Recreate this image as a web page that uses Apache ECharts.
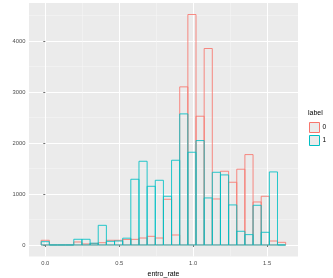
<!DOCTYPE html>
<html>
<head>
<meta charset="utf-8">
<script src="https://cdn.jsdelivr.net/npm/echarts@6/dist/echarts.min.js"></script>
<style>html,body{margin:0;padding:0;background:#fff}#c{width:333px;height:278px}</style>
</head>
<body>
<div id="c"></div>
<script>
// ---- data ----
const binWidth = 0.0551;
const binCenters = [0, 0.0551, 0.1102, 0.1653, 0.2204, 0.2755, 0.3306, 0.3857, 0.4408, 0.4959,
  0.551, 0.6061, 0.6612, 0.7163, 0.7714, 0.8265, 0.8816, 0.9367, 0.9918, 1.0469,
  1.102, 1.1571, 1.2122, 1.2673, 1.3224, 1.3775, 1.4326, 1.4877, 1.5428, 1.5979];
const countLabel0 = [92, 0, 0, 0, 59, 20, 30, 45, 92, 92, 108, 111, 137, 170, 137, 897, 196, 3103, 4523, 2527,
  3856, 903, 1447, 1231, 1487, 1774, 844, 956, 78, 52];
const countLabel1 = [65, 0, 0, 0, 112, 112, 35, 386, 72, 78, 134, 1290, 1643, 1152, 1270, 956, 1663, 2573, 1820, 2049,
  923, 1427, 1375, 786, 269, 203, 779, 249, 1434, 0];
const seriesNames = ['0', '1'];
const xTicks = [0, 0.5, 1, 1.5];
const xMinor = [0.25, 0.75, 1.25];
const yTicks = [0, 1000, 2000, 3000, 4000];
const yMinor = [500, 1500, 2500, 3500, 4500];

const colors = ['#F8766D', '#00BFC4'];
const FONT = 'Liberation Sans, Arial, sans-serif';

function histSeries(name, counts, color) {
  return {
    name: name,
    type: 'custom',
    xAxisIndex: 0, yAxisIndex: 0,
    data: binCenters.map((c, i) => [c, counts[i]]),
    renderItem: function (params, api) {
      const c = api.value(0), v = api.value(1);
      const p0 = api.coord([c - binWidth / 2, v]);
      const p1 = api.coord([c + binWidth / 2, 0]);
      return {
        type: 'rect',
        shape: { x: p0[0], y: p0[1], width: p1[0] - p0[0], height: p1[1] - p0[1] },
        style: { fill: 'none', stroke: color, lineWidth: 1, opacity: 0.85 }
      };
    },
    itemStyle: { color: '#EBEBEB', borderColor: color, borderWidth: 1 }
  };
}

const chart = echarts.init(document.getElementById('c'), null, { renderer: 'canvas' });
chart.setOption({
  animation: false,
  backgroundColor: '#ffffff',
  title: {
    text: 'label', left: 308, top: 110, padding: 0,
    textStyle: { fontFamily: FONT, fontSize: 7, fontWeight: 'normal', color: '#000' }
  },
  legend: {
    orient: 'vertical', left: 309, top: 122, padding: 0,
    itemWidth: 10, itemHeight: 10, itemGap: 2,
    icon: 'rect',
    textStyle: { fontFamily: FONT, fontSize: 6.5, color: '#000', padding: [0, 0, 0, -2] },
    data: seriesNames.map((n, i) => ({
      name: n,
      itemStyle: { color: '#EBEBEB', borderColor: colors[i], borderWidth: 1 }
    }))
  },
  grid: {
    left: 29, top: 3, right: 35, bottom: 21.5,
    outerBoundsMode: 'none', containLabel: false,
    show: true, backgroundColor: '#EBEBEB', borderWidth: 0
  },
  xAxis: [{
    type: 'value', min: -0.110, max: 1.709,
    name: 'entro_rate', nameLocation: 'middle', nameGap: 11,
    nameTextStyle: { fontFamily: FONT, fontSize: 7, color: '#000' },
    axisLine: { show: false },
    axisTick: { show: true, length: 2, lineStyle: { color: '#333', width: 0.7 }, customValues: xTicks },
    axisLabel: { customValues: xTicks, margin: 3.5, fontFamily: FONT, fontSize: 5.8, color: '#4D4D4D',
      formatter: v => v.toFixed(1) },
    splitLine: { show: true, lineStyle: { color: '#FFFFFF', width: 1 } }
  }, {
    type: 'value', min: -0.110, max: 1.709, position: 'bottom',
    axisLine: { show: false },
    axisTick: { show: false, customValues: xMinor },
    axisLabel: { show: false, customValues: xMinor },
    splitLine: { show: true, lineStyle: { color: '#F7F7F7', width: 0.5 } }
  }],
  yAxis: [{
    type: 'value', min: -226, max: 4749,
    name: 'count', nameLocation: 'middle', nameGap: 21, nameRotate: 90,
    nameTextStyle: { fontFamily: FONT, fontSize: 7, color: '#000' },
    axisLine: { show: false },
    axisTick: { show: true, length: 2, lineStyle: { color: '#333', width: 0.7 }, customValues: yTicks },
    axisLabel: { customValues: yTicks, margin: 3.5, fontFamily: FONT, fontSize: 5.8, color: '#4D4D4D',
      formatter: v => String(v) },
    splitLine: { show: true, lineStyle: { color: '#FFFFFF', width: 1 } }
  }, {
    type: 'value', min: -226, max: 4749, position: 'left',
    axisLine: { show: false },
    axisTick: { show: false, customValues: yMinor },
    axisLabel: { show: false, customValues: yMinor },
    splitLine: { show: true, lineStyle: { color: '#F7F7F7', width: 0.5 } }
  }],
  series: [
    histSeries(seriesNames[0], countLabel0, colors[0]),
    histSeries(seriesNames[1], countLabel1, colors[1])
  ]
});
</script>
</body>
</html>
